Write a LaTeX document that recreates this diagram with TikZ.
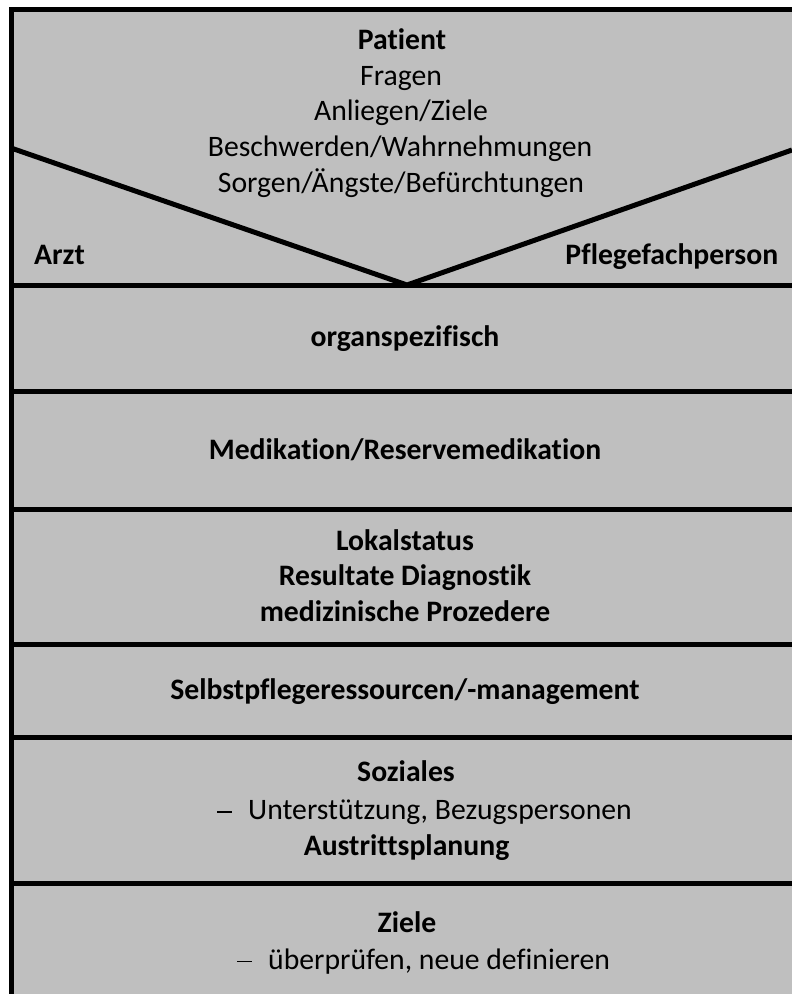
\documentclass[tikz,border=0pt]{standalone}
\usepackage{fontspec}
\setmainfont{Carlito}[RawFeature={-liga;-clig;-calt;-dlig}]
\definecolor{boxgray}{HTML}{BFBFBF}
\newcommand{\nolig}{\kern0pt{}}
\begin{document}
\begin{tikzpicture}[x=1pt,y=-1pt,
  txt/.style={inner sep=0pt, anchor=base, font=\fontsize{29.7}{35.6}\selectfont},
  btxt/.style={inner sep=0pt, anchor=base, font=\fontsize{29.7}{35.6}\selectfont\bfseries},
  dashmark/.style={inner sep=0pt, anchor=base west, font=\fontsize{29.7}{35.6}\selectfont},
  rule/.style={line width=5pt, draw=black}]
\useasboundingbox (0,0) rectangle (792,994);
\begin{scope}
\clip (0,0) rectangle (792,994);
\fill[white] (0,0) rectangle (792,994);
\fill[boxgray] (11,9.5) rectangle (820,1020);
% frame and dividers
\draw[rule, line join=miter] (820,9.5) -- (11,9.5) -- (11,1020);
\draw[rule] (11,285) -- (820,285);
\draw[rule] (11,391.5) -- (820,391.5);
\draw[rule] (11,509.5) -- (820,509.5);
\draw[rule] (11,644.5) -- (820,644.5);
\draw[rule] (11,737.5) -- (820,737.5);
\draw[rule] (11,883.5) -- (820,883.5);
% diagonals
\coordinate (dl) at (11,148);
\coordinate (apex) at (407,285);
\coordinate (dr) at (792,150);
\draw[rule, line join=miter] (dl) -- (apex) -- (dr);
\end{scope}
% top section
\node[btxt] (patient) at (402,49.5) {Patient};
\node[txt] (fragen) at (401,85) {Fragen};
\node[txt] (anliegen) at (401,120.7) {Anliegen/Ziele};
\node[txt] (beschw) at (400,156.3) {Beschwerden/Wahrnehmungen};
\node[txt] (sorgen) at (401,192) {Sorgen/Ängste/Befürchtungen};
\node[btxt, anchor=base west] (arzt) at (34,264.3) {Arzt};
\node[btxt, anchor=base east] (pflege) at (778.5,264.3) {Pf\nolig legefachperson};
% sections
\node[btxt] (organ) at (405,346.5) {organspezif\nolig isch};
\node[btxt] (medik) at (405,459) {Medikation/Reservemedikation};
\node[btxt] (lokal) at (405,550) {Lokalstatus};
\node[btxt] (result) at (405,585.5) {Resultate Diagnostik};
\node[btxt] (prozed) at (405,621) {medizinische Prozedere};
\node[btxt] (selbst) at (405,699.5) {Selbstpf\nolig legeressourcen/-management};
\node[btxt] (sozial) at (406,781.7) {Soziales};
\node[dashmark] (dash1) at (217,819) {\rule[6.5pt]{15pt}{1.2pt}};
\node[txt, anchor=base west] (unterst) at (248,819) {Unterstützung, Bezugspersonen};
\node[btxt] (austritt) at (406.5,855) {Austrittsplanung};
\node[btxt] (ziele) at (407,932.7) {Ziele};
\node[dashmark] (dash2) at (237,969.3) {\rule[7pt]{15pt}{1.2pt}};
\node[txt, anchor=base west] (ueberpr) at (268,969.3) {überprüfen, neue def\nolig inieren};
\end{tikzpicture}
\end{document}
